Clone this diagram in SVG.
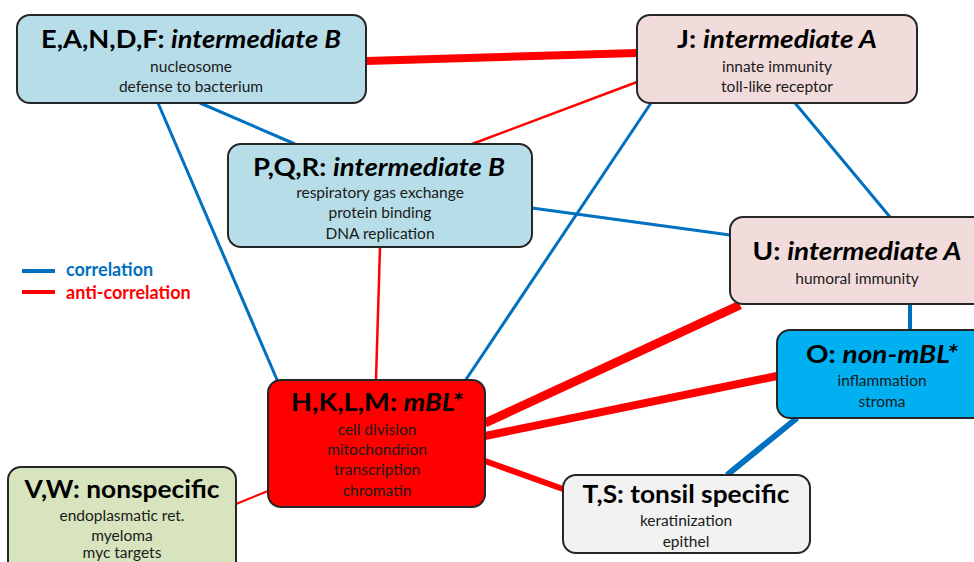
<svg xmlns="http://www.w3.org/2000/svg" width="974" height="562" viewBox="0 0 974 562">
<style>
.box{stroke:#262626;stroke-width:2}
.t{font-family:Lato,"Open Sans","Liberation Sans",sans-serif;font-weight:bold;font-size:24px;fill:#000;text-anchor:middle}
.s{font-family:Lato,"Open Sans","Liberation Sans",sans-serif;font-size:15.5px;fill:#1a1a1a;text-anchor:middle}
.i{font-style:italic}
.c{stroke:#0070c0;fill:none}
.a{stroke:#ff0000;fill:none}
.lg{font-family:Lato,"Open Sans","Liberation Sans",sans-serif;font-weight:bold;font-size:18px}
</style>
<rect width="974" height="562" fill="#fff"/>
<g id="connectors">
<line class="a" x1="366" y1="61" x2="637" y2="53" stroke-width="8"/>
<line class="c" x1="200" y1="103" x2="295" y2="144" stroke-width="3"/>
<line class="c" x1="158" y1="103" x2="278" y2="382" stroke-width="3"/>
<line class="a" x1="637" y1="82" x2="472" y2="144" stroke-width="2.5"/>
<line class="c" x1="651" y1="103" x2="465" y2="381" stroke-width="3"/>
<line class="c" x1="795" y1="103" x2="890" y2="217" stroke-width="3"/>
<line class="c" x1="532" y1="208" x2="730" y2="235" stroke-width="3"/>
<line class="a" x1="380" y1="247" x2="376" y2="380" stroke-width="2.5"/>
<line class="a" x1="740" y1="305" x2="485" y2="423" stroke-width="9"/>
<line class="c" x1="910" y1="304" x2="910" y2="330" stroke-width="4"/>
<line class="a" x1="777" y1="376" x2="485" y2="436" stroke-width="8"/>
<line class="c" x1="797" y1="418" x2="727" y2="475" stroke-width="6"/>
<line class="a" x1="485" y1="461" x2="563" y2="489" stroke-width="6"/>
<line class="a" x1="268" y1="491" x2="236" y2="504" stroke-width="2"/>
</g>
<g id="legend">
<line x1="22" y1="271" x2="55" y2="271" stroke="#0070c0" stroke-width="4"/>
<text class="lg" x="66" y="276" fill="#0070c0">correlation</text>
<line x1="22" y1="292" x2="55" y2="292" stroke="#ff0000" stroke-width="4"/>
<text class="lg" x="66" y="299" fill="#ff0000">anti-correlation</text>
</g>
<g id="node-E">
<rect class="box" x="17" y="15" width="349" height="88" rx="13" fill="#b7dde8"/>
<text class="t" x="191" y="48" textLength="300" lengthAdjust="spacingAndGlyphs">E,A,N,D,F: <tspan class="i">intermediate B</tspan></text>
<text class="s" x="191" y="72">nucleosome</text>
<text class="s" x="191" y="92">defense to bacterium</text>
</g>
<g id="node-J">
<rect class="box" x="637" y="15" width="280" height="88" rx="13" fill="#f2dcdb"/>
<text class="t" x="777" y="48" textLength="200" lengthAdjust="spacingAndGlyphs">J: <tspan class="i">intermediate A</tspan></text>
<text class="s" x="777" y="72">innate immunity</text>
<text class="s" x="777" y="92">toll-like receptor</text>
</g>
<g id="node-P">
<rect class="box" x="228" y="144" width="304" height="103" rx="13" fill="#b7dde8"/>
<text class="t" x="379" y="176" textLength="252" lengthAdjust="spacingAndGlyphs">P,Q,R: <tspan class="i">intermediate B</tspan></text>
<text class="s" x="380" y="198">respiratory gas exchange</text>
<text class="s" x="380" y="218">protein binding</text>
<text class="s" x="380" y="239">DNA replication</text>
</g>
<g id="node-U">
<rect class="box" x="730" y="217" width="260" height="87" rx="13" fill="#f2dcdb"/>
<text class="t" x="857" y="260" textLength="209" lengthAdjust="spacingAndGlyphs">U: <tspan class="i">intermediate A</tspan></text>
<text class="s" x="857" y="284">humoral immunity</text>
</g>
<g id="node-O">
<rect class="box" x="777" y="330" width="210" height="88" rx="13" fill="#00b0f0"/>
<text class="t" x="882" y="363" textLength="152" lengthAdjust="spacingAndGlyphs">O: <tspan class="i">non-mBL*</tspan></text>
<text class="s" x="882" y="386">inflammation</text>
<text class="s" x="882" y="407">stroma</text>
</g>
<g id="node-H">
<rect class="box" x="268" y="380" width="217" height="127" rx="13" fill="#ff0000"/>
<text class="t" x="377" y="411" textLength="172" lengthAdjust="spacingAndGlyphs">H,K,L,M: <tspan class="i">mBL*</tspan></text>
<text class="s" x="377" y="435">cell division</text>
<text class="s" x="377" y="455">mitochondrion</text>
<text class="s" x="377" y="475">transcription</text>
<text class="s" x="377" y="496">chromatin</text>
</g>
<g id="node-V">
<rect class="box" x="8" y="467" width="228" height="110" rx="13" fill="#d7e4bd"/>
<text class="t" x="122" y="498" textLength="195" lengthAdjust="spacingAndGlyphs">V,W: nonspecific</text>
<text class="s" x="122" y="521">endoplasmatic ret.</text>
<text class="s" x="122" y="541">myeloma</text>
<text class="s" x="122" y="558">myc targets</text>
</g>
<g id="node-T">
<rect class="box" x="563" y="475" width="247" height="78" rx="13" fill="#f2f2f2"/>
<text class="t" x="686" y="503" textLength="207" lengthAdjust="spacingAndGlyphs">T,S: tonsil specific</text>
<text class="s" x="686" y="526">keratinization</text>
<text class="s" x="686" y="547">epithel</text>
</g>
</svg>
